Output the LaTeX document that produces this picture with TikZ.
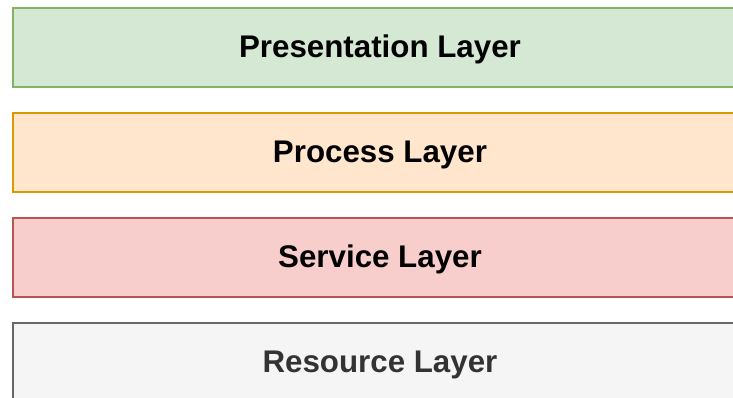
\documentclass[tikz,border=0pt]{standalone}
\usepackage{fontspec}
\setmainfont{Liberation Sans}
\definecolor{gfill}{HTML}{D5E8D4}\definecolor{gline}{HTML}{82B366}
\definecolor{ofill}{HTML}{FFE6CC}\definecolor{oline}{HTML}{D79B00}
\definecolor{rfill}{HTML}{F8CECC}\definecolor{rline}{HTML}{B85450}
\definecolor{sfill}{HTML}{F5F5F5}\definecolor{sline}{HTML}{666666}
\definecolor{stext}{HTML}{333333}
\begin{document}
\begin{tikzpicture}[x=1pt,y=-1pt,
  layer/.style={draw, line width=2pt, minimum width=734pt, minimum height=79pt, inner sep=0pt,
    anchor=north west},
  lbl/.style={font=\fontsize{31.3pt}{36pt}\selectfont\bfseries, inner sep=0pt}]
\useasboundingbox (0,0) rectangle (733,398);
\clip (0,0) rectangle (733,398);
\node[layer, fill=gfill, draw=gline] (pres) at (12,7) {};
\node[layer, fill=ofill, draw=oline] (proc) at (12,112) {};
\node[layer, fill=rfill, draw=rline] (serv) at (12,217) {};
\node[layer, fill=sfill, draw=sline] (res) at (12,322) {};
\node[lbl] (prestext) at ([yshift=-2pt]pres.center) {Presentation Layer};
\node[lbl] (proctext) at ([yshift=-2pt]proc.center) {Process Layer};
\node[lbl] (servtext) at ([yshift=-2pt]serv.center) {Service Layer};
\node[lbl, text=stext] (restext) at ([yshift=-2pt]res.center) {Resource Layer};
\end{tikzpicture}
\end{document}
